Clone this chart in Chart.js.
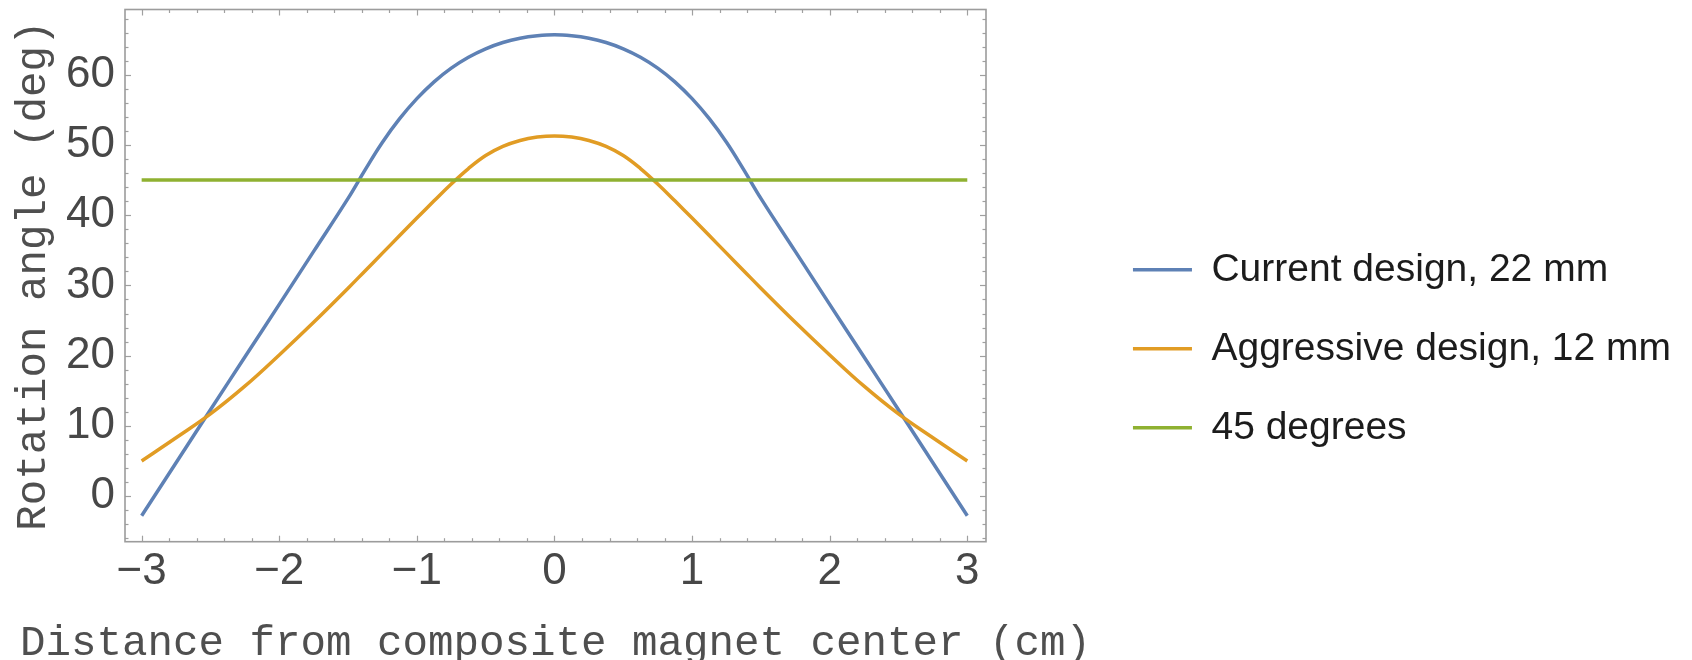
<!DOCTYPE html>
<html>
<head>
<meta charset="utf-8">
<script src="https://cdn.jsdelivr.net/npm/chart.js@4.4.0/dist/chart.umd.min.js"></script>
<style>
html, body { margin: 0; padding: 0; background: #ffffff; }
#wrap { position: relative; width: 1692px; height: 660px; }
</style>
</head>
<body>
<div id="wrap"><canvas id="c"></canvas></div>
<script>
// ---- data ----
const xValues = [-3, -2.75, -2.5, -2.25, -2, -1.75, -1.5, -1.375, -1.25, -1.125, -1, -0.875, -0.75, -0.625,
                 -0.5, -0.375, -0.25, -0.125, 0, 0.125, 0.25, 0.375, 0.5, 0.625, 0.75, 0.875, 1, 1.125,
                 1.25, 1.375, 1.5, 1.75, 2, 2.25, 2.5, 2.75, 3];
const currentDesign = [-2.8, 4.75, 12.3, 19.8, 27.3, 34.85, 42.4, 46.5, 50.4, 53.75, 56.6, 59.0, 60.95, 62.5,
                       63.7, 64.6, 65.2, 65.55, 65.7, 65.55, 65.2, 64.6, 63.7, 62.5, 60.95, 59.0, 56.6, 53.75,
                       50.4, 46.5, 42.4, 34.85, 27.3, 19.8, 12.3, 4.75, -2.8];
const aggressiveDesign = [5.0, 8.3, 11.7, 15.65, 20.1, 24.75, 29.6, 32.1, 34.6, 37.1, 39.6, 42.05, 44.45, 46.65,
                          48.5, 49.8, 50.65, 51.13, 51.3, 51.13, 50.65, 49.8, 48.5, 46.65, 44.45, 42.05, 39.6, 37.1,
                          34.6, 32.1, 29.6, 24.75, 20.1, 15.65, 11.7, 8.3, 5.0];
const referenceX = [-3, 3];
const referenceValues = [45, 45];
const seriesLabels = ['Current design, 22 mm', 'Aggressive design, 12 mm', '45 degrees'];
const xTickValues = [-3, -2, -1, 0, 1, 2, 3];
const xTickLabels = ['\u22123', '\u22122', '\u22121', '0', '1', '2', '3'];
const yTickValues = [0, 10, 20, 30, 40, 50, 60];
const yTickLabels = ['0', '10', '20', '30', '40', '50', '60'];
const xTitle = 'Distance from composite magnet center (cm)';
const yTitle = 'Rotation angle (deg)';

// ---- styling ----
const COLORS = ['#5e81b5', '#e19c24', '#8fb131'];
const SANS = "'Liberation Sans', Arial, Helvetica, sans-serif";
const MONO = "'Liberation Mono', 'Courier New', monospace";
const W = 1692, PLOT_RIGHT = 986, RIGHT_PAD = 11;

const framePlugin = {
  id: 'frameTicks',
  afterDatasetsDraw(chart) {
    const { ctx, chartArea: a, scales: { x, y } } = chart;
    ctx.save();
    ctx.strokeStyle = '#a0a0a0';
    ctx.lineWidth = 1.2;
    const seg = (x1, y1, x2, y2) => { ctx.beginPath(); ctx.moveTo(x1, y1); ctx.lineTo(x2, y2); ctx.stroke(); };
    for (let i = -15; i <= 15; i++) {
      const v = i / 5;
      const L = (i % 5 === 0) ? 6 : 3.5;
      const px = Math.round(x.getPixelForValue(v)) + 0.5;
      seg(px, a.bottom, px, a.bottom - L);
      seg(px, a.top, px, a.top + L);
    }
    for (let v = -6; v <= 68; v += 2) {
      const L = (v % 10 === 0) ? 6 : 3.5;
      const py = Math.round(y.getPixelForValue(v)) + 0.5;
      seg(a.left, py, a.left + L, py);
      seg(a.right, py, a.right - L, py);
    }
    ctx.strokeStyle = '#9c9c9c';
    ctx.lineWidth = 1.6;
    ctx.strokeRect(a.left, a.top, a.right - a.left, a.bottom - a.top);
    ctx.restore();
  },
  afterDraw(chart) {
    const { ctx, chartArea: a } = chart;
    ctx.save();
    ctx.font = '42.5px ' + MONO;
    ctx.fillStyle = '#4f4f4f';
    ctx.textAlign = 'center';
    ctx.textBaseline = 'alphabetic';
    ctx.fillText(xTitle, (a.left + a.right) / 2, 655);
    ctx.restore();
  }
};

const toPoints = (xs, ys) => xs.map((xv, i) => ({ x: xv, y: ys[i] }));

new Chart(document.getElementById('c'), {
  type: 'line',
  data: {
    datasets: [
      { label: seriesLabels[0], data: toPoints(xValues, currentDesign), borderColor: COLORS[0], backgroundColor: COLORS[0], order: 2 },
      { label: seriesLabels[1], data: toPoints(xValues, aggressiveDesign), borderColor: COLORS[1], backgroundColor: COLORS[1], order: 1 },
      { label: seriesLabels[2], data: toPoints(referenceX, referenceValues), borderColor: COLORS[2], backgroundColor: COLORS[2], order: 0 }
    ]
  },
  options: {
    responsive: true,
    maintainAspectRatio: false,
    animation: false,
    events: [],
    layout: { padding: { top: 9.5, right: RIGHT_PAD, left: 0, bottom: 0 } },
    elements: {
      line: { borderWidth: 3.5, tension: 0.4, cubicInterpolationMode: 'default', fill: false },
      point: { radius: 0, hoverRadius: 0, borderWidth: 3.5 }
    },
    scales: {
      x: {
        type: 'linear', position: 'bottom', min: -3.121, max: 3.136, bounds: 'data',
        grid: { display: false, drawTicks: false }, border: { display: false },
        afterBuildTicks: s => { s.ticks = xTickValues.map(v => ({ value: v })); },
        afterFit: s => { s.height = 118.3; s.paddingLeft = 0; s.paddingRight = 0; },
        ticks: {
          autoSkip: false, maxRotation: 0, padding: 4, color: '#474747',
          font: { family: SANS, size: 44 },
          callback: (v, i) => xTickLabels[i]
        },
        title: { display: false }
      },
      y: {
        type: 'linear', position: 'left', min: -6.5, max: 69.3, bounds: 'data',
        grid: { display: false, drawTicks: false }, border: { display: false },
        afterBuildTicks: s => { s.ticks = yTickValues.map(v => ({ value: v })); },
        afterFit: s => { s.width = 125; s.paddingTop = 0; s.paddingBottom = 0; },
        ticks: {
          autoSkip: false, padding: 10, color: '#474747',
          font: { family: SANS, size: 44 },
          callback: (v, i) => yTickLabels[i]
        },
        title: {
          display: true, text: yTitle, color: '#4f4f4f',
          font: { family: MONO, size: 42.5, lineHeight: 1.2 }, padding: { top: 8, bottom: 0 }
        }
      },
      ySpacer: {
        type: 'linear', position: 'right', display: true,
        grid: { display: false, drawTicks: false }, border: { display: false },
        ticks: { display: false },
        afterFit: s => {
          const lg = s.chart.legend;
          s.width = Math.max(0, W - RIGHT_PAD - (lg ? lg.width : 0) - PLOT_RIGHT);
          s.paddingTop = 0; s.paddingBottom = 0;
        }
      }
    },
    plugins: {
      tooltip: { enabled: false },
      legend: {
        position: 'right', align: 'center', maxWidth: 900,
        title: { display: true, text: '', font: { size: 10, lineHeight: 1 }, padding: { top: 9, bottom: 9 } },
        labels: {
          usePointStyle: true, pointStyle: 'line', pointStyleWidth: 59,
          font: { family: SANS, size: 39 }, color: '#1c1c1c', padding: 40,
          sort: (a, b) => a.datasetIndex - b.datasetIndex
        }
      }
    }
  },
  plugins: [framePlugin]
});
</script>
</body>
</html>
